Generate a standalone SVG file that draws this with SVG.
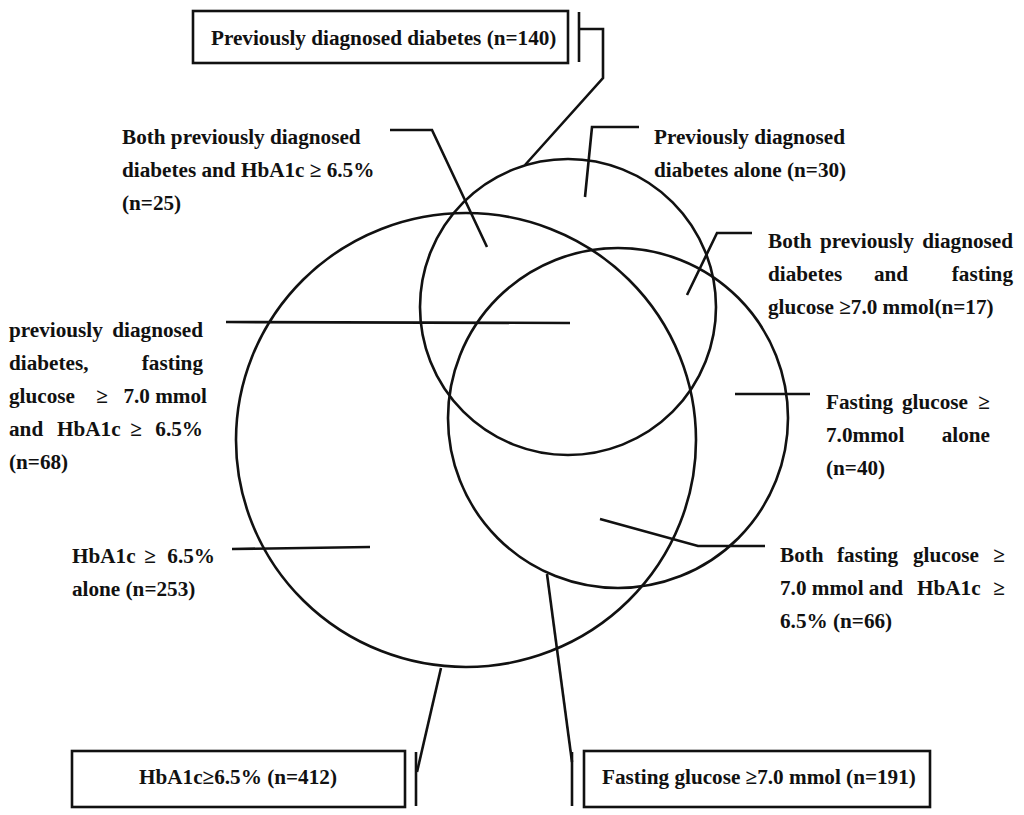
<svg xmlns="http://www.w3.org/2000/svg" width="1024" height="815" viewBox="0 0 1024 815">
<style>
.c{fill:none;stroke:#111;stroke-width:2.6}
.b{fill:#fff;stroke:#111;stroke-width:2.6}
.l{fill:none;stroke:#111;stroke-width:2.6;stroke-linejoin:miter}
text{font-family:"Liberation Serif","Times New Roman",serif;font-weight:bold;font-size:21.2px;fill:#111}
.m{text-anchor:middle}
</style>
<rect width="1024" height="815" fill="#fff"/>
<g id="circle-previous"><circle class="c" cx="568" cy="307" r="148"/></g>
<g id="circle-hba1c"><ellipse class="c" cx="466" cy="440" rx="230" ry="227"/></g>
<g id="circle-fasting"><circle class="c" cx="618" cy="418" r="170"/></g>
<g id="connectors">
<path class="l" d="M579,12 V62"/>
<path class="l" d="M579,29 H603 V78 L525,165"/>
<path class="l" d="M390,130 H432 L487,247"/>
<path class="l" d="M639,127 H592 L585,197"/>
<path class="l" d="M752,233 H717 L687,295"/>
<path class="l" d="M226,322 L570,323"/>
<path class="l" d="M232,549 L370,547"/>
<path class="l" d="M735,394 H810"/>
<path class="l" d="M600,519 L698,546 H765"/>
<path class="l" d="M441,668 L417,772"/>
<path class="l" d="M416,752 V806"/>
<path class="l" d="M547,574 L572,762"/>
<path class="l" d="M572,752 V806"/>
</g>
<g id="box-previous">
<rect class="b" x="193" y="11" width="375" height="52"/>
<text x="211" y="45">Previously diagnosed diabetes (n=140)</text>
</g>
<g id="box-hba1c">
<rect class="b" x="72" y="751" width="333" height="56"/>
<text class="m" x="238" y="784">HbA1c≥6.5% (n=412)</text>
</g>
<g id="box-fasting">
<rect class="b" x="584" y="751" width="346" height="56"/>
<text x="602" y="784">Fasting glucose ≥7.0 mmol (n=191)</text>
</g>
<g id="label-prev-hba1c">
<text x="122" y="144">Both previously diagnosed</text>
<text x="122" y="177">diabetes and HbA1c ≥ 6.5%</text>
<text x="122" y="210">(n=25)</text>
</g>
<g id="label-prev-alone">
<text x="654" y="144">Previously diagnosed</text>
<text x="654" y="177">diabetes alone (n=30)</text>
</g>
<g id="label-prev-fasting">
<text y="248"><tspan x="768">Both</tspan><tspan x="820">previously</tspan><tspan x="1013" text-anchor="end">diagnosed</tspan></text>
<text y="281"><tspan x="768">diabetes</tspan><tspan x="891" text-anchor="middle">and</tspan><tspan x="1013" text-anchor="end">fasting</tspan></text>
<text x="768" y="314">glucose ≥7.0 mmol(n=17)</text>
</g>
<g id="label-all-three">
<text y="337"><tspan x="9">previously</tspan><tspan x="203" text-anchor="end">diagnosed</tspan></text>
<text y="370"><tspan x="9">diabetes,</tspan><tspan x="203" text-anchor="end">fasting</tspan></text>
<text y="403"><tspan x="9">glucose</tspan><tspan x="102" text-anchor="middle">≥</tspan><tspan x="207" text-anchor="end">7.0 mmol</tspan></text>
<text y="436"><tspan x="9">and</tspan><tspan x="57">HbA1c</tspan><tspan x="136" text-anchor="middle">≥</tspan><tspan x="203" text-anchor="end">6.5%</tspan></text>
<text x="9" y="469">(n=68)</text>
</g>
<g id="label-hba1c-alone">
<text y="563"><tspan x="72">HbA1c</tspan><tspan x="150" text-anchor="middle">≥</tspan><tspan x="215" text-anchor="end">6.5%</tspan></text>
<text x="72" y="596">alone (n=253)</text>
</g>
<g id="label-fasting-alone">
<text y="409"><tspan x="826">Fasting</tspan><tspan x="902">glucose</tspan><tspan x="990" text-anchor="end">≥</tspan></text>
<text y="442"><tspan x="826">7.0mmol</tspan><tspan x="990" text-anchor="end">alone</tspan></text>
<text x="826" y="475">(n=40)</text>
</g>
<g id="label-fasting-hba1c">
<text y="562"><tspan x="780">Both</tspan><tspan x="837">fasting</tspan><tspan x="913">glucose</tspan><tspan x="1005" text-anchor="end">≥</tspan></text>
<text y="595"><tspan x="780">7.0 mmol and</tspan><tspan x="917">HbA1c</tspan><tspan x="1005" text-anchor="end">≥</tspan></text>
<text x="780" y="628">6.5% (n=66)</text>
</g>
</svg>
